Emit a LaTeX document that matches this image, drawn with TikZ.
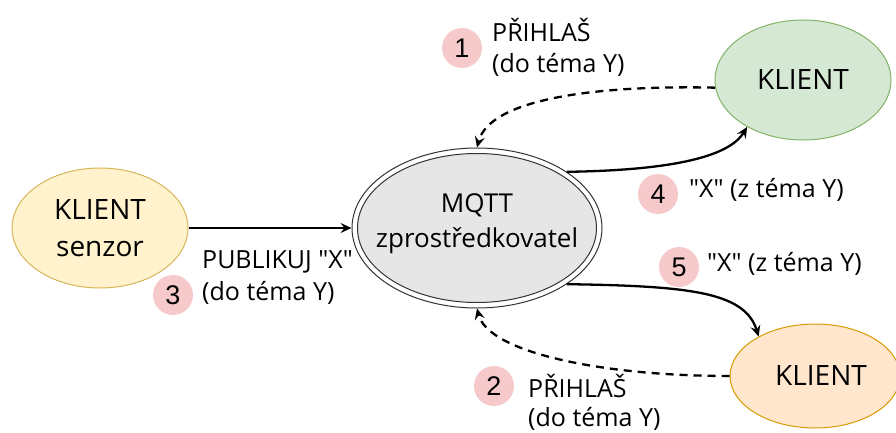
\documentclass[tikz,border=0pt]{standalone}
\usepackage{fontspec}
\setmainfont{Open Sans}[Ligatures=TeXOff]
\newfontfamily\numfont{Liberation Sans}
\usetikzlibrary{shapes.geometric,arrows.meta}
\definecolor{yelfill}{HTML}{FFF2CC}
\definecolor{yeldraw}{HTML}{D6B656}
\definecolor{grnfill}{HTML}{D5E8D4}
\definecolor{grndraw}{HTML}{82B366}
\definecolor{orgfill}{HTML}{FFE6CC}
\definecolor{orgdraw}{HTML}{D79B00}
\definecolor{brkfill}{HTML}{E6E6E6}
\definecolor{brkdraw}{HTML}{333333}
\definecolor{badgefill}{HTML}{F6CACA}
\begin{document}
\begin{tikzpicture}[x=1pt,y=-1pt,
  client/.style={ellipse, draw, line width=1pt, inner sep=0pt, align=center,
    font=\fontsize{28}{37}\selectfont},
  badge/.style={circle, fill=badgefill, minimum size=40pt, inner sep=0pt,
    font=\numfont\fontsize{27}{27}\selectfont},
  lbl/.style={anchor=base west, inner sep=0pt, font=\fontsize{25}{30}\selectfont},
  conn/.style={line width=2.3pt, -{Stealth[length=11pt,width=10pt,inset=4pt]}},
  dashconn/.style={conn, dash pattern=on 8pt off 6pt},
]
\useasboundingbox (0,0) rectangle (896,433);
\clip (0,0) rectangle (896,433);

% nodes
\node[client, fill=yelfill, draw=yeldraw, minimum width=176pt, minimum height=120pt]
  (sensor) at (100,228) {KLIENT\\senzor};
\node[client, fill=grnfill, draw=grndraw, minimum width=176pt, minimum height=120pt]
  (green) at (803,80) {KLIENT};
\node[client, fill=orgfill, draw=orgdraw, minimum width=170pt, minimum height=104pt]
  (orange) at (815,376) {\hspace*{12pt}KLIENT};
\node[ellipse, draw=brkdraw, fill=white, line width=1pt, minimum width=250pt,
  minimum height=160pt, inner sep=0pt] (broker) at (477,228) {};
\node[ellipse, draw=brkdraw, fill=brkfill, line width=1pt, minimum width=239pt,
  minimum height=149pt, inner sep=0pt] (brokerin) at (477,228) {};
\node[align=center, inner sep=0pt, font=\fontsize{26}{35}\selectfont]
  (brokertext) at (477,224) {MQTT\\zprostředkovatel};

% connectors
\draw[dashconn] (green.185) .. controls (600,85) and (490,98) .. (broker.north);
\draw[conn] (broker.32) .. controls (690,170) and (732,152) .. (green.220);
\draw[conn] (sensor.east) -- (broker.west);
\draw[conn] (broker.-32) .. controls (690,286) and (745,292) .. (orange.145);
\draw[dashconn] (orange.west) .. controls (600,376) and (488,352) .. (broker.south);

% badges
\node[badge] (b1) at (462,48) {1};
\node[badge] (b2) at (494,386) {2};
\node[badge] (b3) at (173,295) {3};
\node[badge] (b4) at (658,194) {4};
\node[badge] (b5) at (679,267) {5};

% labels
\node[lbl] (l1a) at (492,42) {PŘIHLAŠ};
\node[lbl] (l1b) at (492,73) {(do téma Y)};
\node[lbl] (l2a) at (528,397) {PŘIHLAŠ};
\node[lbl] (l2b) at (528,426) {(do téma Y)};
\node[lbl] (l3a) at (202,268) {PUBLIKUJ "X"};
\node[lbl] (l3b) at (202,300) {(do téma Y)};
\node[lbl] (l4) at (689,197) {"X" (z téma Y)};
\node[lbl] (l5) at (707,271) {"X" (z téma Y)};
\end{tikzpicture}
\end{document}
